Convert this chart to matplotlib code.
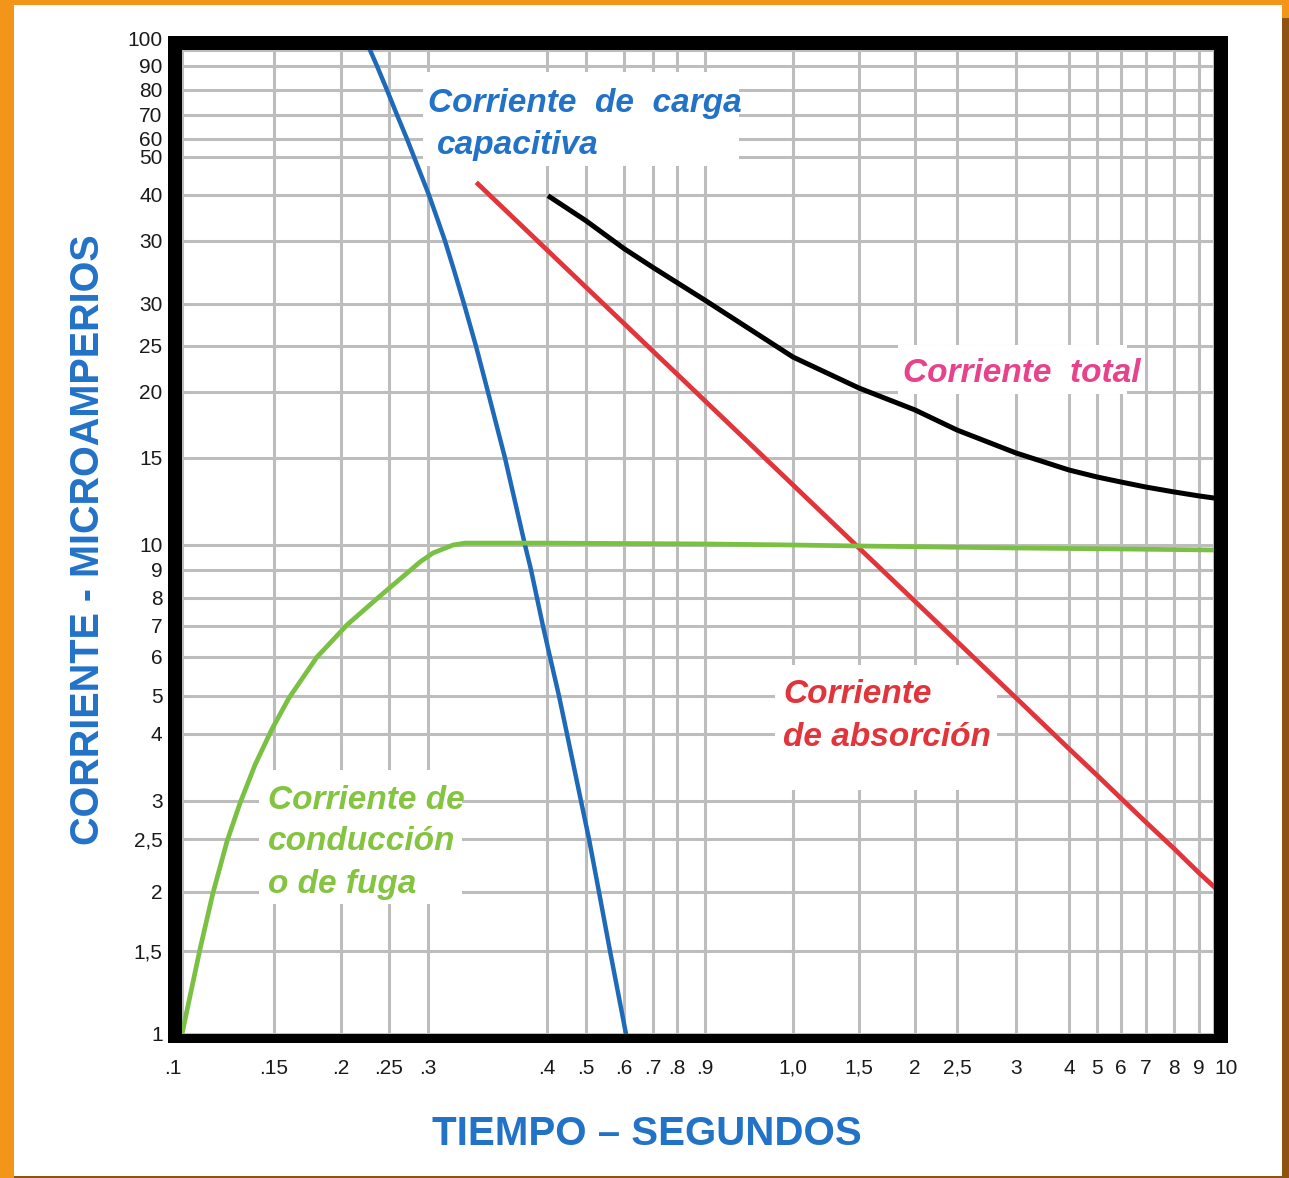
import matplotlib
matplotlib.use("Agg")
import matplotlib.pyplot as plt
import numpy as np
from matplotlib.patches import Rectangle

W, H = 1289, 1178

# ---- axis grid (values and the labels printed at them) ----
X_VALS = [0.1, 0.15, 0.2, 0.25, 0.3, 0.4, 0.5, 0.6, 0.7, 0.8, 0.9,
          1.0, 1.5, 2, 2.5, 3, 4, 5, 6, 7, 8, 9, 10]
X_LABELS = [".1", ".15", ".2", ".25", ".3", ".4", ".5", ".6", ".7", ".8", ".9",
            "1,0", "1,5", "2", "2,5", "3", "4", "5", "6", "7", "8", "9", "10"]
Y_VALS = [1, 1.5, 2, 2.5, 3, 4, 5, 6, 7, 8, 9, 10, 15, 20, 25, 30, 35,
          40, 50, 60, 70, 80, 90, 100]
Y_LABELS = ["1", "1,5", "2", "2,5", "3", "4", "5", "6", "7", "8", "9", "10",
            "15", "20", "25", "30", "30", "40", "50", "60", "70", "80", "90", "100"]

# hand-drawn paper: where each grid line sits (pixels of the original)
X_PIX = np.array([182, 274, 341, 389, 428, 547, 586, 624, 653, 677, 705,
                  793, 859, 915, 957, 1016, 1069, 1097, 1121, 1146, 1174, 1199, 1214])
Y_PIX = np.array([1034, 951, 892, 839, 801, 734, 696, 657, 626, 598, 570, 545,
                  458, 392, 346, 304, 241, 195, 157, 139, 115, 90, 66, 50])

# ---- curves ----
# corriente de carga capacitiva
cap_t = [0.2302, 0.2375, 0.2479, 0.2603, 0.2731, 0.2821, 0.3008, 0.3076, 0.3143,
         0.3218, 0.3303, 0.3403, 0.3504, 0.3647, 0.3815, 0.3866, 0.3916, 0.3966,
         0.4077, 0.4308, 0.4513, 0.4872, 0.5079, 0.5342, 0.5632, 0.6069]
cap_i = [100, 90, 80, 70, 60, 50, 40, 37.5, 35, 32.7, 30, 25, 20, 15, 10, 9, 8, 7,
         6, 5, 4, 3, 2.5, 2, 1.5, 1]

# corriente de absorción
abs_t = [0.342, 0.4, 0.5, 0.6, 0.7, 0.8, 0.9, 1.0, 1.5, 2, 2.5, 3, 4, 5, 6, 7, 8, 9, 10]
abs_i = [42.9, 34.29, 31.33, 27.68, 24.43, 21.95, 19.33, 13.45, 9.88, 7.88, 6.5,
         4.95, 3.78, 3.385, 3.04, 2.72, 2.41, 2.18, 2.05]

# corriente total
tot_t = [0.4077, 0.5, 0.6, 0.7, 0.8, 0.9, 1.0, 1.5, 2, 2.5, 3, 4, 5, 6, 7, 8, 9, 10]
tot_i = [39.78, 37.2, 34.4, 32.9, 31.7, 30.3, 23.8, 20.43, 18.64, 17.12, 15.38,
         14.31, 13.91, 13.62, 13.33, 13.05, 12.82, 12.7]

# corriente de conducción o de fuga
fug_t = [0.1, 0.1098, 0.1168, 0.1245, 0.1315, 0.1397, 0.1489, 0.1612, 0.1821,
         0.2063, 0.2396, 0.2808, 0.2897, 0.3042, 0.321, 0.3311, 0.4, 0.9, 1.0,
         1.5, 3, 6, 10]
fug_i = [1, 1.517, 1.99, 2.48, 2.97, 3.54, 4.13, 4.95, 6.0, 7.04, 8.04, 9.08, 9.32,
         9.68, 10.0, 10.11, 10.11, 10.06, 10.0, 9.96, 9.88, 9.84, 9.8]

BLUE = "#1f6ab8"
RED = "#e2343b"
GREEN = "#7ac143"
PINK = "#e8428c"
LABEL_BLUE = "#2272c8"
TEXT_GREEN = "#84c440"

SANS = ["Liberation Sans", "DejaVu Sans"]


def xfwd(v):
    return np.interp(v, X_VALS, X_PIX)


def xinv(p):
    return np.interp(p, X_PIX, X_VALS)


def yfwd(v):
    return np.interp(v, Y_VALS, -Y_PIX)


def yinv(p):
    return np.interp(p, -Y_PIX, Y_VALS)


def fig_rect(x0, y0, x1, y1, color, z=5):
    """Rectangle given in original-image pixels (y down)."""
    fig.add_artist(Rectangle((x0 / W, 1 - y1 / H), (x1 - x0) / W, (y1 - y0) / H,
                             transform=fig.transFigure, facecolor=color,
                             edgecolor="none", zorder=z))


def ax_pt(x, y):
    return (x - 182) / 1032, (1034 - y) / 984


fig = plt.figure(figsize=(W / 100, H / 100), dpi=100)
ax = fig.add_axes([182 / W, 1 - 1034 / H, 1032 / W, 984 / H])
ax.set_xscale("function", functions=(xfwd, xinv))
ax.set_yscale("function", functions=(yfwd, yinv))
ax.set_xlim(0.1, 10)
ax.set_ylim(1, 100)

ax.set_xticks(X_VALS, X_LABELS)
ax.set_yticks(Y_VALS, Y_LABELS)
ax.minorticks_off()
ax.tick_params(length=0, labelcolor="#1a1a1a")
ax.tick_params(axis="x", pad=18, labelsize=15)
ax.tick_params(axis="y", pad=14, labelsize=15)
for lab in ax.get_xticklabels() + ax.get_yticklabels():
    lab.set_family(SANS)
xl = ax.get_xticklabels()
xl[0].set_ha("right")
xl[-1].set_ha("left")
ax.get_yticklabels()[-1].set_va("bottom")

ax.set_axisbelow(True)
ax.grid(True, color="#bdbdbd", linewidth=2.2)
for s in ax.spines.values():
    s.set_visible(False)

ax.plot(cap_t, cap_i, color=BLUE, lw=3.2, zorder=3)
ax.plot(abs_t, abs_i, color=RED, lw=3.4, zorder=3)
ax.plot(tot_t, tot_i, color="black", lw=3.6, zorder=3)
ax.plot(fug_t, fug_i, color=GREEN, lw=3.4, zorder=3)

# white label boxes over the grid
boxes = [(423, 72, 739, 166), (898, 345, 1127, 394),
         (775, 665, 997, 790), (259, 770, 462, 904)]
for x0, y0, x1, y1 in boxes:
    bx, by = ax_pt(x0, y1)
    bw, bh = (x1 - x0) / 1032, (y1 - y0) / 984
    ax.add_patch(Rectangle((bx, by), bw, bh, transform=ax.transAxes,
                           facecolor="white", edgecolor="none", zorder=1))

notes = [
    ("Corriente  de  carga", 428, 112, LABEL_BLUE),
    ("capacitiva", 437, 154, LABEL_BLUE),
    ("Corriente  total", 903, 382, PINK),
    ("Corriente", 783, 703, RED),
    ("de absorción", 783, 746, RED),
    ("Corriente de", 268, 809, TEXT_GREEN),
    ("conducción", 268, 850, TEXT_GREEN),
    ("o de fuga", 268, 893, TEXT_GREEN),
]
for txt, x, y, c in notes:
    tx, ty = ax_pt(x, y)
    ax.text(tx, ty, txt, transform=ax.transAxes, ha="left", va="baseline",
            color=c, fontsize=24, fontweight="bold", fontstyle="italic",
            family=SANS, zorder=4)

fig.text(88 / W, 1 - 540 / H, "CORRIENTE - MICROAMPERIOS", rotation=90,
         ha="center", va="center", color=LABEL_BLUE, fontsize=28.5,
         fontweight="bold", family=SANS)
fig.text(647 / W, 1 - 1145 / H, "TIEMPO – SEGUNDOS", ha="center", va="baseline",
         color=LABEL_BLUE, fontsize=29, fontweight="bold", family=SANS)

# thick black frame
fig_rect(168, 36, 1228, 50, "black")
fig_rect(168, 1034, 1228, 1043, "black")
fig_rect(168, 36, 182, 1043, "black")
fig_rect(1214, 36, 1228, 1043, "black")

# page border
ORANGE = "#f39519"
BROWN = "#8c5410"
fig_rect(0, 0, W, 5, ORANGE)
fig_rect(0, 0, 14, H, ORANGE)
fig_rect(1282, 0, W, 18, ORANGE)
fig_rect(1282, 18, W, H, BROWN)
fig_rect(14, H - 2, 1282, H, BROWN)

fig.savefig("out.png", dpi=100)
